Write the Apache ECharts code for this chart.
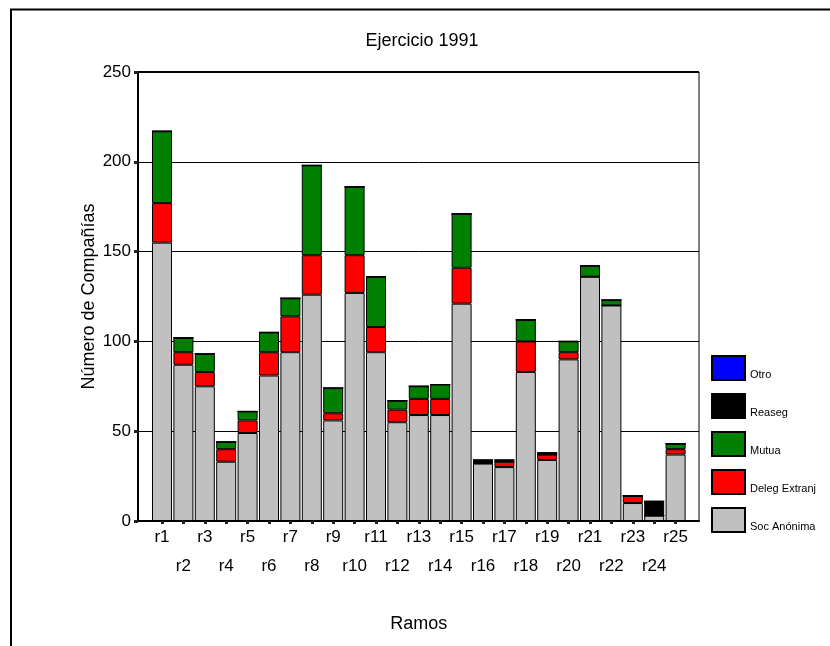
<!DOCTYPE html>
<html>
<head>
<meta charset="utf-8">
<script src="https://cdn.jsdelivr.net/npm/echarts@6/dist/echarts.min.js"></script>
<style>
html,body{margin:0;padding:0;background:#fff;}
#chart{width:830px;height:646px;}
</style>
</head>
<body>
<div id="chart"></div>
<script>
// ---- data ----
const categories = ['r1','r2','r3','r4','r5','r6','r7','r8','r9','r10','r11','r12','r13','r14','r15','r16','r17','r18','r19','r20','r21','r22','r23','r24','r25'];
const socAnonima   = [155, 87, 75, 33, 49, 81, 94, 126, 56, 127, 94, 55, 59, 59, 121, 32, 30, 83, 34, 90, 136, 120, 10, 3, 37];
const delegExtranj = [ 22,  7,  8,  7,  7, 13, 20,  22,  4,  21, 14,  7,  9,  9,  20,  0,  3, 17,  3,  4,   0,   0,  4, 0,  3];
const mutua        = [ 40,  8, 10,  4,  5, 11, 10,  50, 14,  38, 28,  5,  7,  8,  30,  0,  0, 12,  0,  6,   6,   3,  0, 0,  3];
const reaseg       = [  0,  0,  0,  0,  0,  0,  0,   0,  0,   0,  0,  0,  0,  0,   0,  2,  1,  0,  1,  0,   0,   0,  0, 8,  0];
const otro         = [  0,  0,  0,  0,  0,  0,  0,   0,  0,   0,  0,  0,  0,  0,   0,  0,  0,  0,  0,  0,   0,   0,  0, 0,  0];
const yTicks = [0, 50, 100, 150, 200, 250];
const seriesNames = ['Soc Anónima', 'Deleg Extranj', 'Mutua', 'Reaseg', 'Otro'];
const legendOrder = ['Otro', 'Reaseg', 'Mutua', 'Deleg Extranj', 'Soc Anónima'];
const titleText = 'Ejercicio 1991';
const yName = 'Número de Compañías';
const xName = 'Ramos';

const FONT = 'Liberation Sans, Arial, sans-serif';
const colors = ['#c0c0c0', '#ff0000', '#008000', '#000000', '#0000ff'];
const values = [socAnonima, delegExtranj, mutua, reaseg, otro];

const chart = echarts.init(document.getElementById('chart'), null, {renderer: 'canvas'});

const series = seriesNames.map((n, i) => ({
  name: n,
  type: 'bar',
  stack: 'total',
  xAxisIndex: 1,
  yAxisIndex: 1,
  barWidth: 20,
  data: values[i],
  itemStyle: {color: colors[i], borderColor: '#000', borderWidth: 1},
  emphasis: {disabled: true}
}));

const option = {
  animation: false,
  backgroundColor: '#fff',
  title: {
    text: titleText,
    left: 417, top: 27, textAlign: 'center',
    textStyle: {fontFamily: FONT, fontSize: 18, fontWeight: 'normal', color: '#000'}
  },
  legend: {
    data: legendOrder,
    orient: 'vertical',
    left: 711, top: 355, padding: 0,
    itemWidth: 33, itemHeight: 24, itemGap: 12,
    icon: 'rect',
    formatter: n => '{a|' + n + '}',
    textStyle: {fontFamily: FONT, fontSize: 11, color: '#000',
      rich: {a: {fontFamily: FONT, fontSize: 11, color: '#000', padding: [14, 0, 0, 0]}}}
  },
  grid: [
    {left: 138, top: 72, width: 561, height: 449, show: true, borderColor: '#000', borderWidth: 1, backgroundColor: 'transparent'},
    {left: 151.3, top: 72, width: 535, height: 449}
  ],
  xAxis: [
    {gridIndex: 0, type: 'value', min: 0, max: 1, show: true,
     axisLine: {show: true, lineStyle: {color: '#000', width: 2}},
     axisTick: {show: false}, axisLabel: {show: false}, splitLine: {show: false}},
    {gridIndex: 1, type: 'category', data: categories,
     axisLine: {show: false},
     axisTick: {show: true, alignWithLabel: true, length: 3, lineStyle: {color: '#222', width: 3}},
     axisLabel: {interval: 0, margin: 2, fontFamily: FONT, fontSize: 17, color: '#000', lineHeight: 29,
       formatter: (v, idx) => (idx % 2 === 0 ? v : '\n' + v)},
     name: xName, nameLocation: 'middle', nameGap: 94, nameMoveOverlap: false,
     nameTextStyle: {fontFamily: FONT, fontSize: 18, color: '#000'}}
  ],
  yAxis: [
    {gridIndex: 0, type: 'value', min: 0, max: 250, interval: 50,
     axisLine: {show: true, lineStyle: {color: '#000', width: 2}},
     axisTick: {show: true, length: 4, lineStyle: {color: '#222', width: 3}},
     axisLabel: {margin: 7, fontFamily: FONT, fontSize: 17, color: '#000',
       formatter: v => (yTicks.indexOf(v) >= 0 ? String(v) : '')},
     splitLine: {show: true, lineStyle: {color: '#000', width: 1}},
     name: yName, nameLocation: 'middle', nameGap: 40, nameMoveOverlap: false,
     nameTextStyle: {fontFamily: FONT, fontSize: 18, color: '#000'}},
    {gridIndex: 1, type: 'value', min: 0, max: 250, show: false}
  ],
  graphic: [
    {type: 'rect', shape: {x: 11, y: 9.5, width: 900, height: 800}, style: {fill: 'none', stroke: '#000', lineWidth: 2}, silent: true, z: 100},
    {type: 'line', shape: {x1: 138, y1: 72, x2: 699, y2: 72}, style: {stroke: '#000', lineWidth: 2}, silent: true, z: 100}
  ],
  series: series
};
chart.setOption(option);
</script>
</body>
</html>
